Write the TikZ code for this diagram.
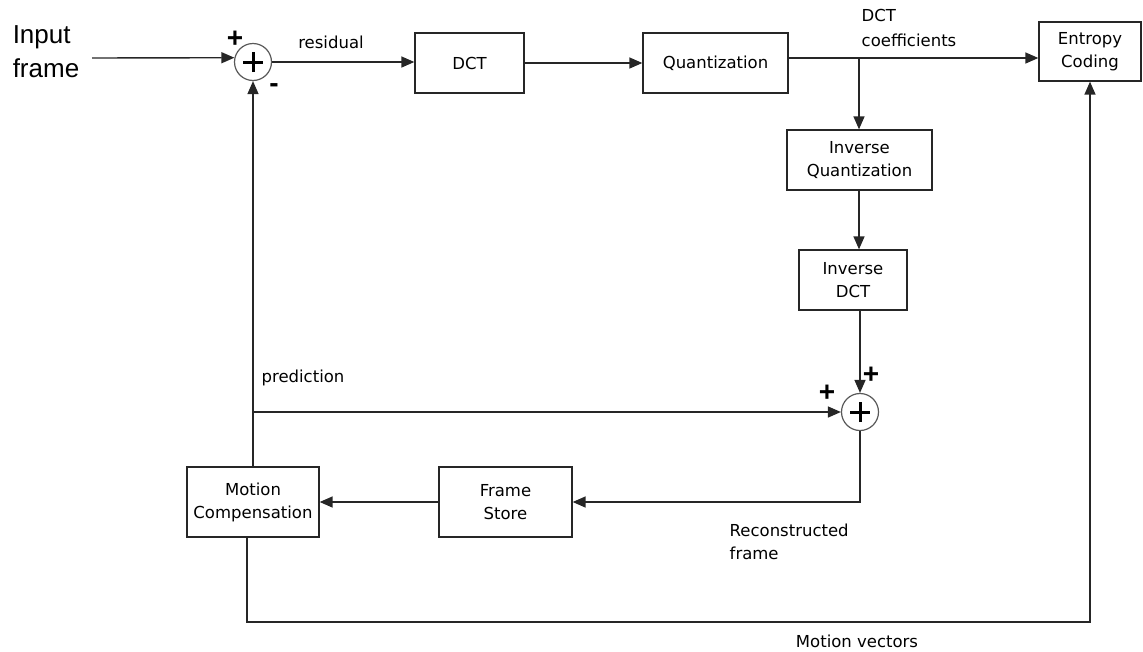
\documentclass[tikz,border=0pt]{standalone}
\usepackage{fontspec}
\setmainfont{DejaVu Sans}
\newfontfamily\libsans{Liberation Sans}
\usetikzlibrary{arrows.meta}
\begin{document}
\begin{tikzpicture}[x=1pt,y=-1pt,
  line width=1.4pt, draw=black!85,
  lbl/.style={font=\fontsize{16.5}{23}\selectfont, inner sep=0pt},
  box/.style={draw=black!85, line width=1.3pt, align=center, inner sep=0pt,
              font=\fontsize{16.5}{23}\selectfont},
  sumnode/.style={circle, draw=black!65, line width=1.2pt, minimum size=37pt, inner sep=0pt,
     path picture={\draw[line width=3pt,black]
        ([xshift=-10pt]path picture bounding box.center) -- ([xshift=10pt]path picture bounding box.center)
        ([yshift=-10pt]path picture bounding box.center) -- ([yshift=10pt]path picture bounding box.center);}},
  sgn/.style={font=\libsans\bfseries\fontsize{28}{28}\selectfont, inner sep=0pt},
  arr/.style={-{Triangle[length=13pt,width=11pt]}}
]
\useasboundingbox (0,0) rectangle (1143,651);

% blocks
\node[box, minimum width=109pt, minimum height=60pt] (dct) at (469.5,63) {DCT};
\node[box, minimum width=145pt, minimum height=60pt] (quant) at (715.5,63) {Quantization};
\node[box, minimum width=102pt, minimum height=59pt] (ent) at (1090,51.5) {Entropy\\Coding};
\node[box, minimum width=145pt, minimum height=60pt] (iq) at (859.5,160) {Inverse\\Quantization};
\node[box, minimum width=108pt, minimum height=60pt] (idct) at (853,280) {Inverse\\DCT};
\node[box, minimum width=132pt, minimum height=70pt] (mc) at (253,502) {Motion\\Compensation};
\node[box, minimum width=133pt, minimum height=70pt] (fs) at (505.5,502) {Frame\\Store};
\node[sumnode] (s1) at (253,62) {};
\node[sumnode] (s2) at (860,412) {};

% texts
\node[font=\libsans\fontsize{26}{34}\selectfont, align=left, inner sep=0pt] (inp) at (46,52) {Input\\frame};
\node[lbl] (res) at (331,42) {residual};
\node[lbl, align=left, anchor=west, font=\fontsize{16.5}{25}\selectfont] (coef) at (861,28) {DCT\\coefficients};
\node[lbl] (pred) at (303,378) {prediction};
\node[lbl, align=left, anchor=west] (rec) at (729,542) {Reconstructed\\frame};
\node[lbl] (mv) at (857,641) {Motion vectors};
\node[sgn] (p1) at (235,39) {+};
\node[sgn] (m1) at (274,88) {-};
\node[sgn] (p2) at (871,375) {+};
\node[sgn] (p3) at (827,393) {+};

% connectors
\coordinate (inA) at (92,58);
\draw[arr] (inA) -- (s1.167);
\draw[arr] (s1.east) -- (dct.west |- s1.east);
\draw[arr] (dct.east) -- (quant.west);
\coordinate (br) at (859,58);
\draw (quant.east |- br) -- (br);
\draw[arr] (br) -- (ent.west |- br);
\draw[arr] (br) -- (iq.north -| br);
\draw[arr] (iq.south -| br) -- (idct.north -| br);
\draw[arr] (idct.south -| s2.north) -- (s2.north);
\coordinate (pb) at (253,412);
\draw (mc.north) -- (pb);
\draw[arr] (pb) -- (s1.south);
\draw[arr] (pb) -- (s2.west);
\draw[arr] (s2.south) |- (fs.east);
\draw[arr] (fs.west) -- (mc.east);
\coordinate (mvc) at (247,622);
\draw[arr] (mc.south -| mvc) -- (mvc) -- (mvc -| ent.south) -- (ent.south);
\end{tikzpicture}
\end{document}
